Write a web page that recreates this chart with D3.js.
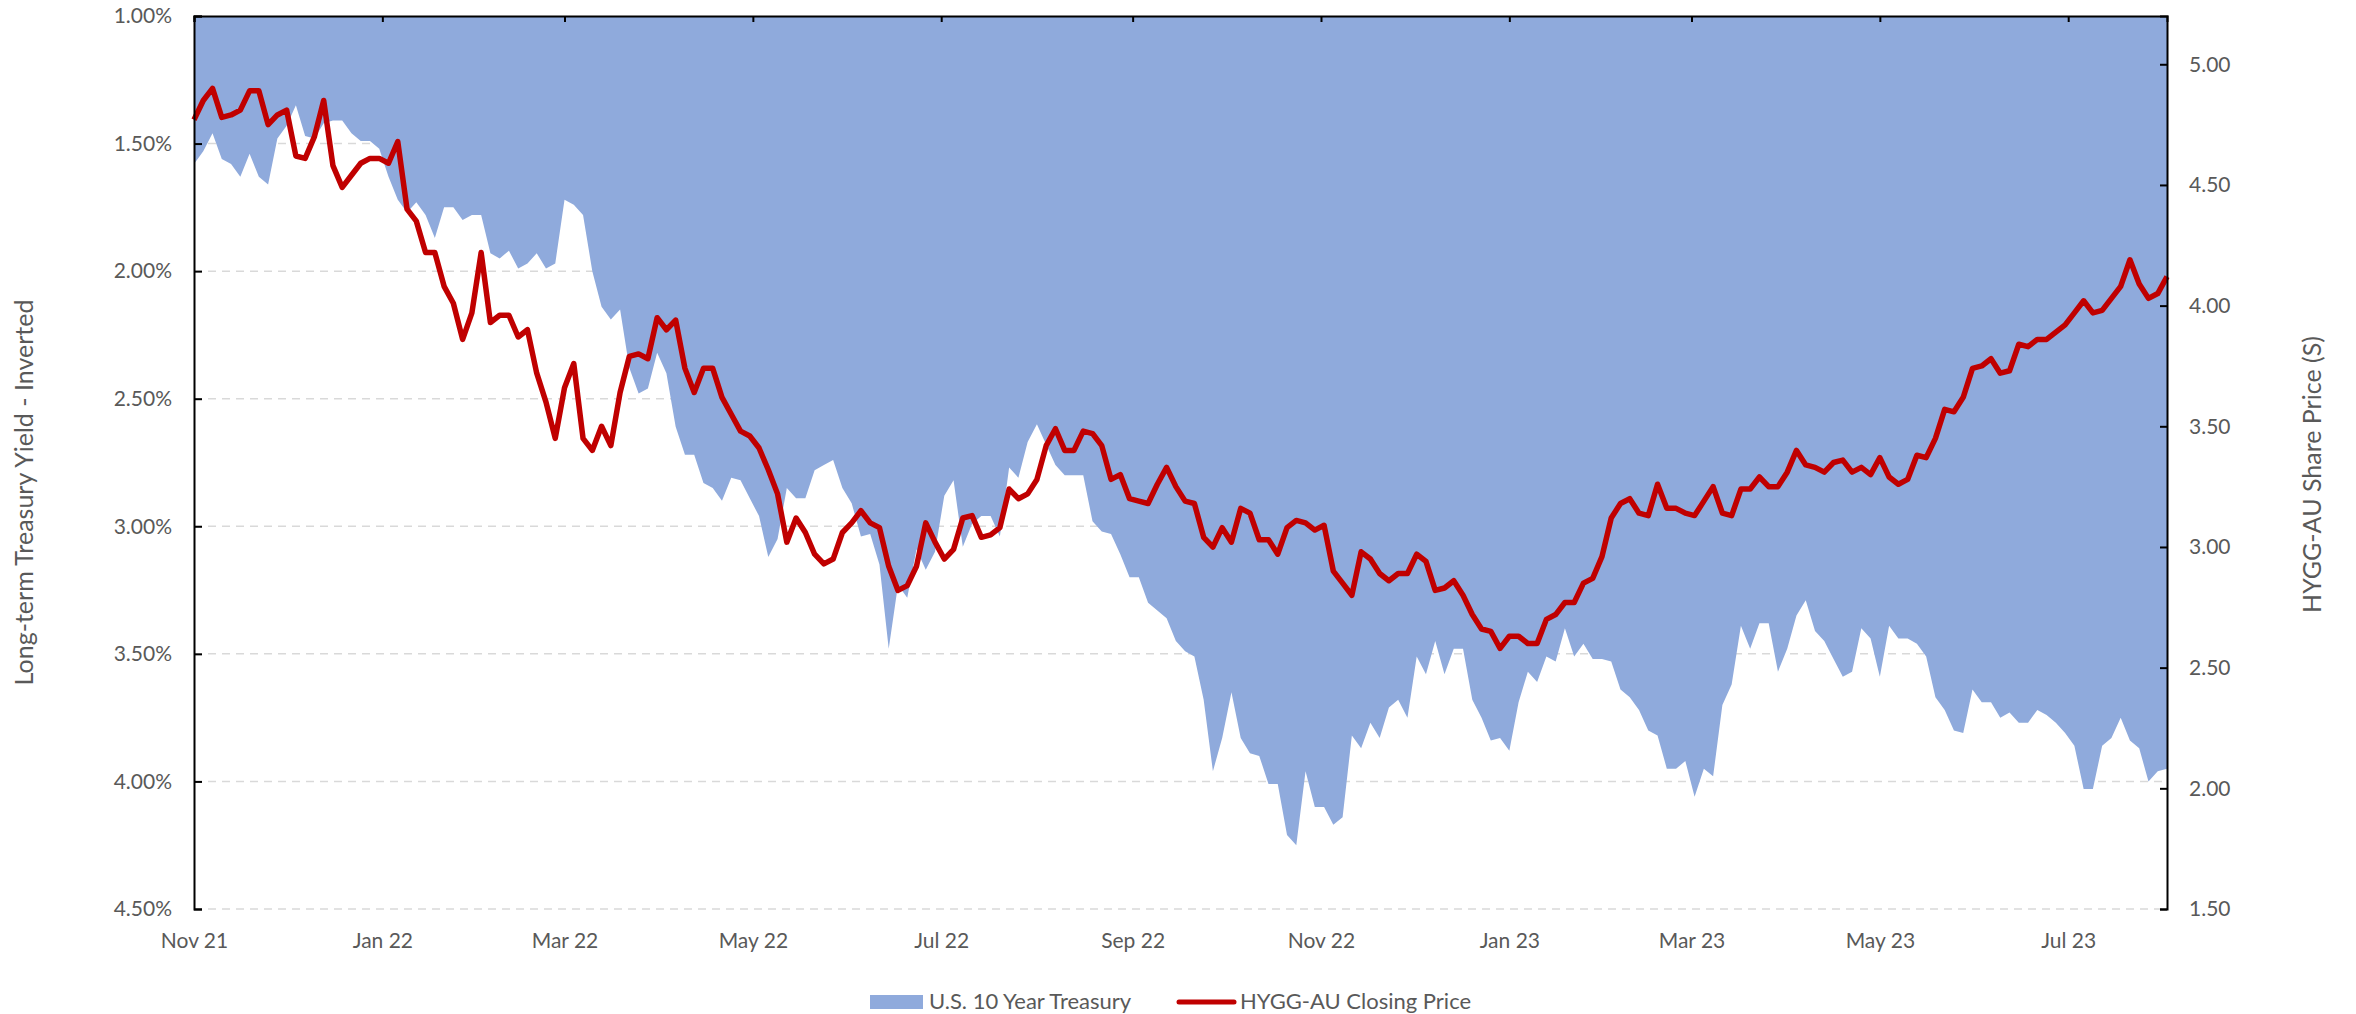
<!DOCTYPE html>
<html>
<head>
<meta charset="utf-8">
<script src="https://cdn.jsdelivr.net/npm/d3@7"></script>
<style>
  body { margin: 0; background: #fff; }
  svg text { font-family: Lato, "Open Sans", sans-serif; fill: #595959; }
</style>
</head>
<body>
<svg id="chart"></svg>
<script>
// series sampled every 3 calendar days starting at startDate
const startDate = "2021-11-01";
const stepDays = 3;

// U.S. 10 year treasury yield (%)
const treasuryYield = [
  1.58,1.53,1.46,1.56,1.58,1.63,1.54,1.63,1.66,1.48,
  1.43,1.35,1.47,1.48,1.42,1.41,1.41,1.46,1.49,1.49,
  1.52,1.63,1.72,1.77,1.73,1.78,1.87,1.75,1.75,1.80,
  1.78,1.78,1.93,1.95,1.92,1.99,1.97,1.93,1.99,1.97,
  1.72,1.74,1.78,2.00,2.14,2.19,2.15,2.38,2.48,2.46,
  2.32,2.40,2.61,2.72,2.72,2.83,2.85,2.90,2.81,2.82,
  2.89,2.96,3.12,3.05,2.85,2.89,2.89,2.78,2.76,2.74,
  2.85,2.91,3.04,3.03,3.15,3.48,3.23,3.28,3.09,3.17,
  3.10,2.88,2.82,3.08,2.99,2.96,2.96,3.04,2.77,2.81,
  2.67,2.60,2.68,2.76,2.80,2.80,2.80,2.98,3.02,3.03,
  3.11,3.20,3.20,3.30,3.33,3.36,3.45,3.49,3.51,3.68,
  3.96,3.83,3.65,3.83,3.89,3.90,4.01,4.01,4.21,4.25,
  3.96,4.10,4.10,4.17,4.14,3.82,3.87,3.77,3.83,3.71,
  3.68,3.75,3.51,3.58,3.45,3.58,3.48,3.48,3.68,3.75,
  3.84,3.83,3.88,3.69,3.57,3.61,3.51,3.53,3.40,3.51,
  3.46,3.52,3.52,3.53,3.64,3.67,3.72,3.80,3.82,3.95,
  3.95,3.92,4.06,3.95,3.98,3.70,3.62,3.39,3.48,3.38,
  3.38,3.57,3.48,3.35,3.29,3.41,3.45,3.52,3.59,3.57,
  3.40,3.44,3.59,3.39,3.44,3.44,3.46,3.51,3.67,3.72,
  3.80,3.81,3.64,3.69,3.69,3.75,3.73,3.77,3.77,3.72,
  3.74,3.77,3.81,3.86,4.03,4.03,3.86,3.83,3.75,3.84,
  3.87,4.00,3.96,3.95
];

// HYGG-AU closing price
const hyggPrice = [
  4.77,4.85,4.90,4.78,4.79,4.81,4.89,4.89,4.75,4.79,
  4.81,4.62,4.61,4.70,4.85,4.58,4.49,4.54,4.59,4.61,
  4.61,4.59,4.68,4.40,4.35,4.22,4.22,4.08,4.01,3.86,
  3.97,4.22,3.93,3.96,3.96,3.87,3.90,3.72,3.60,3.45,
  3.66,3.76,3.45,3.40,3.50,3.42,3.64,3.79,3.80,3.78,
  3.95,3.90,3.94,3.74,3.64,3.74,3.74,3.62,3.55,3.48,
  3.46,3.41,3.32,3.22,3.02,3.12,3.06,2.97,2.93,2.95,
  3.06,3.10,3.15,3.10,3.08,2.92,2.82,2.84,2.92,3.10,
  3.02,2.95,2.99,3.12,3.13,3.04,3.05,3.08,3.24,3.20,
  3.22,3.28,3.42,3.49,3.40,3.40,3.48,3.47,3.42,3.28,
  3.30,3.20,3.19,3.18,3.26,3.33,3.25,3.19,3.18,3.04,
  3.00,3.08,3.02,3.16,3.14,3.03,3.03,2.97,3.08,3.11,
  3.10,3.07,3.09,2.90,2.85,2.80,2.98,2.95,2.89,2.86,
  2.89,2.89,2.97,2.94,2.82,2.83,2.86,2.80,2.72,2.66,
  2.65,2.58,2.63,2.63,2.60,2.60,2.70,2.72,2.77,2.77,
  2.85,2.87,2.96,3.12,3.18,3.20,3.14,3.13,3.26,3.16,
  3.16,3.14,3.13,3.19,3.25,3.14,3.13,3.24,3.24,3.29,
  3.25,3.25,3.31,3.40,3.34,3.33,3.31,3.35,3.36,3.31,
  3.33,3.30,3.37,3.29,3.26,3.28,3.38,3.37,3.45,3.57,
  3.56,3.62,3.74,3.75,3.78,3.72,3.73,3.84,3.83,3.86,
  3.86,3.89,3.92,3.97,4.02,3.97,3.98,4.03,4.08,4.19,
  4.09,4.03,4.05,4.12
];

const yieldTicks = [1.0, 1.5, 2.0, 2.5, 3.0, 3.5, 4.0, 4.5];
const priceTicks = [1.5, 2.0, 2.5, 3.0, 3.5, 4.0, 4.5, 5.0];
const priceRange = [1.5, 5.2];

const seriesNames = ["U.S. 10 Year Treasury", "HYGG-AU Closing Price"];
const axisTitles = ["Long-term Treasury Yield - Inverted", "HYGG-AU Share Price (S)"];

const AREA_COLOR = "#8faadc";
const LINE_COLOR = "#c00000";

const width = 2356, height = 1014;
const margin = {top: 16, right: 189, bottom: 105, left: 194};
const innerW = width - margin.left - margin.right;
const innerH = height - margin.top - margin.bottom;

const t0 = d3.timeParse("%Y-%m-%d")(startDate);
const data = treasuryYield.map((v, i) => ({
  date: d3.timeDay.offset(t0, i * stepDays),
  yield: v,
  price: hyggPrice[i]
}));

const svg = d3.select("#chart")
    .attr("width", width)
    .attr("height", height);

const chart = svg.append("g")
    .attr("transform", `translate(${margin.left},${margin.top})`);

// scales
const x = d3.scaleTime()
    .domain(d3.extent(data, d => d.date))
    .range([0, innerW]);

// inverted yield axis: 1.00% at the top
const yL = d3.scaleLinear()
    .domain([1.0, 4.5])
    .range([0, innerH]);

const yR = d3.scaleLinear()
    .domain(priceRange)
    .range([innerH, 0]);

// dashed gridlines (behind the area)
chart.append("g")
  .selectAll("line")
  .data(yieldTicks.filter(d => d > 1.0))
  .join("line")
    .attr("x1", 0)
    .attr("x2", innerW)
    .attr("y1", d => yL(d))
    .attr("y2", d => yL(d))
    .attr("stroke", "#d9d9d9")
    .attr("stroke-width", 1.5)
    .attr("stroke-dasharray", "8,6");

// treasury area, filled from the top of the inverted axis down to the yield
const area = d3.area()
    .x(d => x(d.date))
    .y0(yL(1.0))
    .y1(d => yL(d.yield));

chart.append("path")
    .datum(data)
    .attr("fill", AREA_COLOR)
    .attr("d", area);

// price line
const line = d3.line()
    .x(d => x(d.date))
    .y(d => yR(d.price));

chart.append("path")
    .datum(data)
    .attr("fill", "none")
    .attr("stroke", LINE_COLOR)
    .attr("stroke-width", 5.5)
    .attr("stroke-linejoin", "round")
    .attr("d", line);

// axes
const styleAxis = g => {
  g.selectAll(".domain").attr("stroke", "#000").attr("stroke-width", 2);
  g.selectAll(".tick line").attr("stroke", "#000").attr("stroke-width", 2);
  g.selectAll("text").style("font-size", "21px").attr("fill", "#595959");
};

chart.append("g")
    .call(d3.axisLeft(yL)
        .tickValues(yieldTicks)
        .tickSize(-8)
        .tickPadding(22)
        .tickFormat(d => d3.format(".2f")(d) + "%"))
    .call(styleAxis);

chart.append("g")
    .attr("transform", `translate(${innerW},0)`)
    .call(d3.axisRight(yR)
        .tickValues(priceTicks)
        .tickSize(-7)
        .tickPadding(22)
        .tickFormat(d3.format(".2f")))
    .call(styleAxis);

// date axis line with ticks along the top
const monthTicks = d3.timeMonth.every(2).range(x.domain()[0], x.domain()[1]);

chart.append("g")
    .call(d3.axisTop(x)
        .tickValues(monthTicks)
        .tickSize(-6)
        .tickFormat(""))
    .call(styleAxis);

// date labels at the bottom
chart.append("g")
    .attr("transform", `translate(0,${innerH})`)
    .call(d3.axisBottom(x)
        .tickValues(monthTicks)
        .tickSize(0)
        .tickPadding(24)
        .tickFormat(d3.timeFormat("%b %y")))
    .call(g => g.select(".domain").remove())
    .call(styleAxis);

// axis titles
svg.append("text")
    .attr("transform", `translate(27,${margin.top + innerH / 2 + 30}) rotate(-90)`)
    .attr("text-anchor", "middle")
    .attr("dominant-baseline", "middle")
    .style("font-size", "25px")
    .text(axisTitles[0]);

svg.append("text")
    .attr("transform", `translate(2315,${margin.top + innerH / 2 + 12}) rotate(-90)`)
    .attr("text-anchor", "middle")
    .attr("dominant-baseline", "middle")
    .style("font-size", "25px")
    .text(axisTitles[1]);

// legend
const legend = svg.append("g").attr("transform", "translate(0,1002)");

legend.append("rect")
    .attr("x", 870)
    .attr("y", -7)
    .attr("width", 53)
    .attr("height", 14)
    .attr("fill", AREA_COLOR);

legend.append("text")
    .attr("x", 929)
    .attr("y", 7)
    .style("font-size", "22px")
    .text(seriesNames[0]);

legend.append("line")
    .attr("x1", 1179)
    .attr("x2", 1234)
    .attr("stroke", LINE_COLOR)
    .attr("stroke-width", 5)
    .attr("stroke-linecap", "round");

legend.append("text")
    .attr("x", 1240)
    .attr("y", 7)
    .style("font-size", "22px")
    .text(seriesNames[1]);
</script>
</body>
</html>
